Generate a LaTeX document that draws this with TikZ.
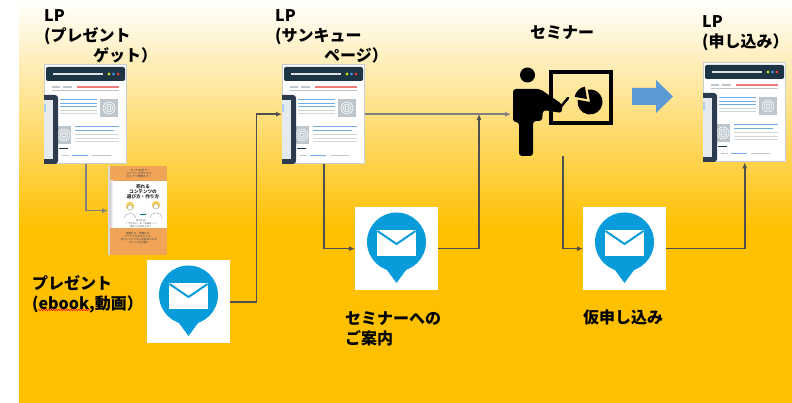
\documentclass[tikz,border=0pt]{standalone}
\usepackage{fontspec}
\setmainfont{Noto Sans CJK JP}
\usetikzlibrary{arrows.meta,decorations.pathmorphing}

\definecolor{bgyellow}{HTML}{FFC000}
\definecolor{bgmid}{HTML}{FAEBC3}
\definecolor{linedark}{HTML}{4F4F4F}
\definecolor{linelight}{HTML}{808080}
\definecolor{mailblue}{HTML}{0A9CDA}
\definecolor{arrowblue}{HTML}{5B9BD5}
\definecolor{pagebar}{HTML}{1D3444}
\definecolor{pageedge}{HTML}{C5CED6}
\definecolor{pagegray}{HTML}{BCC6CC}
\definecolor{pageblue}{HTML}{6FAEE6}
\definecolor{pagered}{HTML}{F07A7A}
\definecolor{tabletframe}{HTML}{2D3B4E}
\definecolor{tabletscreen}{HTML}{E4EAEE}
\definecolor{dotgreen}{HTML}{C6E01E}
\definecolor{dotblue}{HTML}{3E93D6}
\definecolor{dotred}{HTML}{E23B3B}
\definecolor{bookorange}{HTML}{F0A458}
\definecolor{bookhair}{HTML}{F3CF5A}

\tikzset{
    flow/.style={draw=linedark, line width=1.6pt, -{Latex[length=6pt,width=5pt]}},
    flowlight/.style={flow, draw=linelight},
    iconbox/.style={inner sep=0pt, anchor=north west},
    lbl/.style={anchor=north west, inner sep=0pt, align=left,
        font=\fontsize{16}{20}\selectfont\bfseries},
    tiny/.style={inner sep=0pt, align=center, text=black!75},
    % landing page mock-up, 83 x 100
    lppage/.pic={
        \fill[pageedge] (0,0) rectangle (83,100);
        \fill[white] (1,1) rectangle (82,99);
        \fill[pagebar, rounded corners=2pt] (2,3) rectangle (81,17);
        \draw[white!85!pagebar, line width=1.2pt] (9,10) -- (59,10);
        \fill[dotgreen] (65,10) circle (1.6);
        \fill[dotblue] (69.5,10) circle (1.6);
        \fill[dotred] (74,10) circle (1.6);
        \draw[pagegray, line width=1.4pt] (8,23) -- (16,23) (19,23) -- (28,23);
        \draw[pagered, line width=1.4pt] (33,23) -- (75,23);
        \draw[pagegray, line width=1pt] (8,27) -- (75,27);
        \foreach \ly in {36,39.5,43}
            \draw[pageblue, line width=1pt] (16,\ly) -- (53,\ly);
        \foreach \ly in {47,50}
            \draw[pagegray!70, line width=1pt] (16,\ly) -- (53,\ly);
        \fill[pagegray] (56,35) rectangle (74,53);
        \foreach \r in {2,4,6}
            \draw[white, line width=0.6pt] (65,44) circle (\r);
        \fill[pagegray] (13,62) rectangle (27,80);
        \foreach \r in {2,4,6}
            \draw[white, line width=0.6pt] (20,71) circle (\r);
        \draw[pageblue, line width=1pt] (31,63) -- (75,63) (31,66.5) -- (70,66.5);
        \foreach \ly in {71,74.5,78}
            \draw[pagegray!70, line width=1pt] (31,\ly) -- (75,\ly);
        \draw[pagebar, line width=1pt] (15,85) -- (24,85);
        \draw[pagegray, line width=1pt] (18,92) -- (25,92) (48,92) -- (67,92);
        \draw[pageblue, line width=1pt] (28,92) -- (44,92);
        % tablet in front
        \begin{scope}
            \clip (0,0) rectangle (83,100);
            \fill[tabletframe, rounded corners=3pt] (-6,31) rectangle (14,100);
            \fill[tabletscreen] (-6,36) rectangle (9,95);
            \fill[pageblue!60] (0,40) rectangle (2,48);
        \end{scope}
    },
    % mail pin on a white tile, 83 x 83
    mailpin/.pic={
        \fill[white] (0,0) rectangle (83,83);
        \fill[mailblue] (41.5,35) circle (29.5);
        \fill[mailblue] (29,59) -- (54,59) -- (41.5,76) -- cycle;
        \fill[white] (22,23) rectangle (61,49);
        \draw[mailblue, line width=2pt] (22.5,24) -- (41.5,37) -- (60.5,24);
    },
    % ebook cover, 59 x 89
    ebookcover/.pic={
        \fill[bookorange] (0,0) rectangle (59,89);
        \fill[white] (0,15) rectangle (59,62);
        \shade[left color=black!30, right color=white] (0,15) rectangle (5,62);
        \fill[black!15] (0,0) rectangle (2,89);
        \node[tiny, font=\fontsize{2.8}{3.4}\selectfont] (bktop) at (31,7.5)
            {たった60日で\\コンテンツ作りから\\セミナー開催まで！};
        \node[tiny, text=black!85, font=\fontsize{4.6}{4.9}\selectfont\bfseries] (bktitle) at (35,26)
            {売れる\\コンテンツの\\選び方・作り方};
        % two figures
        \fill[bookhair] (22,40) circle (4.2);
        \fill[white] (22,41.5) circle (2.6);
        \draw[black!45, line width=0.3pt] (22,41.5) circle (2.6)
            (16,52) .. controls (17,46) and (27,46) .. (28,52);
        \fill[bookhair] (48,39) circle (4.2);
        \fill[white] (48,40.5) circle (2.6);
        \draw[black!45, line width=0.3pt] (48,40.5) circle (2.6)
            (42,52) .. controls (43,45) and (53,45) .. (54,52);
        \draw[teal, line width=0.5pt, -{Latex[length=1.5pt]}] (32,48) -- (39,48);
        \node[tiny, font=\fontsize{2.4}{2.8}\selectfont] (bkmid) at (33,57.5)
            {あなたの\\「できない」を「出来る」へ\\変えてみませんか？};
        \node[tiny, font=\fontsize{2.6}{3.3}\selectfont] (bkbottom) at (31,72)
            {経験ゼロ、知識ゼロ、\\アイデアゼロからでも、\\安心してビジネスを始められる\\ステップを公開！};
    }
}

\begin{document}
\begin{tikzpicture}[x=1pt, y=-1pt]
    \useasboundingbox (0,0) rectangle (792,403);

    % backdrop
    \fill[white] (0,0) rectangle (792,403);
    \shade[top color=white, middle color=bgmid, bottom color=bgyellow] (19,0) rectangle (792,230);
    \fill[bgyellow] (19,229.5) rectangle (792,403);

    % icon boxes
    \node[iconbox, minimum width=83pt, minimum height=100pt] (lp1) at (44,64) {};
    \node[iconbox, minimum width=83pt, minimum height=100pt] (lp2) at (282,64) {};
    \node[iconbox, minimum width=83pt, minimum height=100pt] (lp3) at (703,62) {};
    \node[iconbox, minimum width=59pt, minimum height=89pt] (ebook) at (108,166) {};
    \node[iconbox, minimum size=83pt] (mail1) at (147,260) {};
    \node[iconbox, minimum size=83pt] (mail2) at (355,207) {};
    \node[iconbox, minimum size=83pt] (mail3) at (583,207) {};
    \node[iconbox, minimum width=103pt, minimum height=89pt] (seminar) at (511,67) {};

    \pic at (lp1.north west) {lppage};
    \pic at (lp2.north west) {lppage};
    \pic at (lp3.north west) {lppage};
    \pic at (ebook.north west) {ebookcover};
    \pic at (mail1.north west) {mailpin};
    \pic at (mail2.north west) {mailpin};
    \pic at (mail3.north west) {mailpin};

    % presenter and board
    \draw[black, line width=4pt] (551,72) rectangle (611,123);
    \fill[black] (590,102) -- ++(-170:12.5) arc[start angle=-170, end angle=-460, radius=12.5] -- cycle;
    \fill[black] (587,99) -- ++(-100:12.5) arc[start angle=-100, end angle=-170, radius=12.5] -- cycle;
    \fill[black] (527.5,75) circle (7.5);
    \fill[black, rounded corners=3pt] (513,122) -- (513,89) -- (540,89) -- (562,104)
        -- (562,113) -- (543,110) -- (542,121) -- (533,121) -- (533,156)
        -- (519,156) -- (519,122) -- cycle;
    \draw[black, line width=2.5pt, line cap=round] (559,109) -- (568,98);

    \fill[arrowblue] (632,88) -- (656,88) -- (656,80) -- (673,96.5) -- (656,113)
        -- (656,105) -- (632,105) -- cycle;

    % labels
    \node[lbl] (lp1lbl) at (44,9) {LP\\(プレゼント\\\hspace*{49pt}ゲット）};
    \node[lbl] (lp2lbl) at (275,9) {LP\\(サンキュー\\\hspace*{49pt}ページ）};
    \node[lbl] (semlbl) at (530,25) {セミナー};
    \node[lbl] (lp3lbl) at (702,15) {LP\\(申し込み）};
    \node[lbl] (giftlbl) at (32,275) {プレゼント\\(ebook,動画）};
    \node[lbl] (guidelbl) at (345,311) {セミナーへの\\ご案内};
    \node[lbl] (entrylbl) at (583,310) {仮申し込み};
    \draw[red, line width=0.5pt, decorate, decoration={snake, amplitude=0.7pt, segment length=2.5pt}]
        (38,310) -- (90,310);

    % connectors
    \coordinate (semjoin) at (479,114);
    \draw[flowlight] (lp1.south) |- (ebook.west);
    \draw[flow] (mail1.east) -- ++(26,0) |- (lp2.west);
    \draw[flow] (lp2.south) |- (mail2.west);
    \draw[flowlight] (lp2.east) -- (lp2.east -| seminar.west);
    \draw[flow] (mail2.east) -| (semjoin);
    \draw[flow] (seminar.south) |- (mail3.west);
    \draw[flow] (mail3.east) -| (lp3.south);
\end{tikzpicture}
\end{document}
